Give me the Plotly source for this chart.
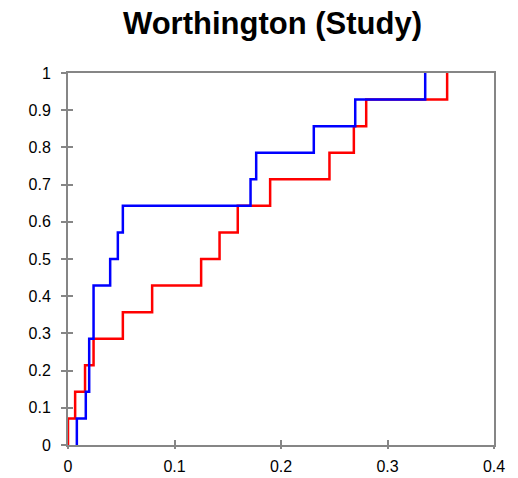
import plotly.graph_objects as go

# Sorted observations for each group and their cumulative fractions (n = 14)
study_a_x = [0.0083, 0.0167, 0.0199, 0.0199, 0.024, 0.024, 0.0396, 0.0468,
             0.0515, 0.1714, 0.1767, 0.2308, 0.2697, 0.3354]
study_b_x = [0.0, 0.0067, 0.016, 0.024, 0.0515, 0.079, 0.125, 0.1423,
             0.1594, 0.1898, 0.2455, 0.2684, 0.28, 0.356]
cum_frac = [0.0714, 0.1429, 0.2143, 0.2857, 0.3571, 0.4286, 0.5, 0.5714,
            0.6429, 0.7143, 0.7857, 0.8571, 0.9286, 1.0]

x_ticks = [0, 0.1, 0.2, 0.3, 0.4]
x_tick_text = ["0", "0.1", "0.2", "0.3", "0.4"]
y_ticks = [0, 0.1, 0.2, 0.3, 0.4, 0.5, 0.6, 0.7, 0.8, 0.9, 1.0]
y_tick_text = ["0", "0.1", "0.2", "0.3", "0.4", "0.5", "0.6", "0.7", "0.8", "0.9", "1"]


def ecdf_path(xs):
    # start at zero, then step up at each observation
    return [xs[0]] + xs, [0.0] + cum_frac


fig = go.Figure()
bx, by = ecdf_path(study_b_x)
fig.add_trace(go.Scatter(x=bx, y=by, mode="lines", line=dict(color="#ff0000", width=2.5, shape="hv"),
                         showlegend=False, hoverinfo="skip"))
ax, ay = ecdf_path(study_a_x)
fig.add_trace(go.Scatter(x=ax, y=ay, mode="lines", line=dict(color="#0000ff", width=2.5, shape="hv"),
                         showlegend=False, hoverinfo="skip"))
# invisible trace on the overlay axes so the inside tick marks get drawn
fig.add_trace(go.Scatter(x=[0], y=[0], xaxis="x2", yaxis="y2", mode="markers",
                         marker=dict(opacity=0), showlegend=False, hoverinfo="skip"))

axis_color = "#868686"
tick_font = dict(family="Liberation Sans, Arial, sans-serif", size=16, color="black")
fig.update_layout(
    width=518, height=478,
    margin=dict(l=68, r=24, t=73, b=33),
    paper_bgcolor="white", plot_bgcolor="white",
    font=dict(family="Liberation Sans, Arial, sans-serif", size=16, color="black"),
    title=dict(text="<b>Worthington (Study)</b>", x=0.526, xanchor="center",
               y=1 - 33.5 / 478, yanchor="bottom",
               font=dict(size=31, color="black")),
    xaxis=dict(range=[0, 0.4], tickvals=x_ticks, ticktext=x_tick_text, tickfont=tick_font,
               showgrid=False, zeroline=False, showline=True, linecolor=axis_color, linewidth=2,
               mirror=True, ticks="outside", ticklen=2, tickwidth=2, tickcolor=axis_color,
               ticklabelstandoff=4, automargin=False),
    yaxis=dict(range=[0, 1], tickvals=y_ticks, ticktext=y_tick_text, tickfont=tick_font,
               showgrid=False, zeroline=False, showline=True, linecolor=axis_color, linewidth=2,
               mirror=True, ticks="outside", ticklen=5, tickwidth=2, tickcolor=axis_color,
               ticklabelstandoff=7, automargin=False),
    xaxis2=dict(range=[0, 0.4], tickvals=x_ticks, showticklabels=False, overlaying="x",
                anchor="y2", side="bottom", showgrid=False, zeroline=False, showline=False,
                ticks="inside", ticklen=5, tickwidth=2, tickcolor=axis_color, automargin=False),
    yaxis2=dict(range=[0, 1], tickvals=y_ticks, showticklabels=False, overlaying="y",
                anchor="x2", side="left", showgrid=False, zeroline=False, showline=False,
                ticks="inside", ticklen=5, tickwidth=2, tickcolor=axis_color, automargin=False),
)

fig.write_html("out.html")
